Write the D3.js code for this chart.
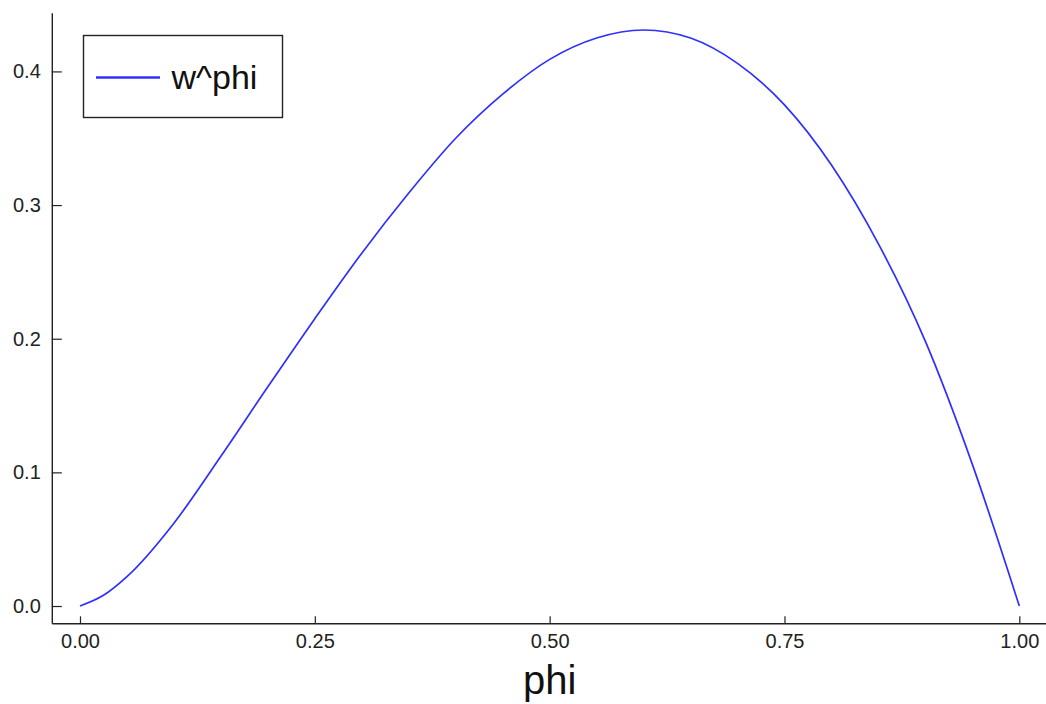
<!DOCTYPE html>
<html>
<head>
<meta charset="utf-8">
<script src="https://cdn.jsdelivr.net/npm/d3@7"></script>
<style>
  body { margin: 0; background: #fff; }
  svg { display: block; }
</style>
</head>
<body>
<div id="chart"></div>
<script>
// values
var phi = [0, 0.025, 0.05, 0.10, 0.15, 0.20, 0.25, 0.30, 0.35, 0.40, 0.45,
           0.50, 0.55, 0.60, 0.65, 0.70, 0.75, 0.80, 0.85, 0.90, 0.95, 1.0];
var wphi = [0, 0.008, 0.022, 0.062, 0.112, 0.164, 0.215, 0.264, 0.309, 0.350, 0.383,
            0.409, 0.425, 0.431, 0.425, 0.406, 0.375, 0.330, 0.271, 0.198, 0.106, 0];
var xTicks = [0, 0.25, 0.5, 0.75, 1.0];
var yTicks = [0, 0.1, 0.2, 0.3, 0.4];
var seriesName = "w^phi";
var xLabel = "phi";

var width = 1046, height = 704;
var font = "'Liberation Sans', Arial, sans-serif";

var svg = d3.select("#chart")
            .append("svg")
            .attr("width", width)
            .attr("height", height);

// 3% padding on both axes, like the original plot
var xmin = d3.min(phi), xmax = d3.max(phi);
var ymin = d3.min(wphi), ymax = d3.max(wphi);
var xpad = (xmax - xmin) * 0.03, ypad = (ymax - ymin) * 0.03;

var x = d3.scaleLinear()
        .domain([xmin - xpad, xmax + xpad])
        .range([51.8, 1047.5]);

var y = d3.scaleLinear()
        .domain([ymin - ypad, ymax + ypad])
        .range([623.3, 12.7]);

var xAxis = svg.append("g")
    .attr("transform", "translate(0," + y.range()[0] + ")")
    .call(d3.axisBottom(x)
            .tickValues(xTicks)
            .tickFormat(d3.format(".2f"))
            .tickSizeInner(-7)
            .tickSizeOuter(0)
            .tickPadding(11));

var yAxis = svg.append("g")
    .attr("transform", "translate(" + x.range()[0] + ",0)")
    .call(d3.axisLeft(y)
            .tickValues(yTicks)
            .tickFormat(d3.format(".1f"))
            .tickSizeInner(-10)
            .tickSizeOuter(0)
            .tickPadding(11));

[xAxis, yAxis].forEach(function(g) {
    g.select(".domain").attr("stroke", "#222").attr("stroke-width", 1.4);
    g.selectAll(".tick line").attr("stroke", "#222").attr("stroke-width", 1.2);
    g.selectAll(".tick text")
        .attr("fill", "#222")
        .style("font-family", font)
        .style("font-size", "20px");
});

// the curve
var line = d3.line()
    .x(function(d, i) { return x(phi[i]); })
    .y(function(d) { return y(d); })
    .curve(d3.curveMonotoneX);

svg.append("path")
    .datum(wphi)
    .attr("fill", "none")
    .attr("stroke", "#2f2fff")
    .attr("stroke-width", 1.7)
    .attr("d", line);

// axis title
svg.append("text")
    .attr("x", (x(xmin) + x(xmax)) / 2)
    .attr("y", 694)
    .attr("text-anchor", "middle")
    .style("font-family", font)
    .style("font-size", "40px")
    .attr("fill", "#111")
    .text(xLabel);

// legend
var legend = svg.append("g").attr("transform", "translate(83.5,35.5)");
legend.append("rect")
    .attr("width", 199)
    .attr("height", 82)
    .attr("fill", "#fff")
    .attr("stroke", "#222")
    .attr("stroke-width", 1.4);
legend.append("line")
    .attr("x1", 12.5).attr("x2", 76.5)
    .attr("y1", 42).attr("y2", 42)
    .attr("stroke", "#2f2fff")
    .attr("stroke-width", 2.4);
legend.append("text")
    .attr("x", 88)
    .attr("y", 53)
    .style("font-family", font)
    .style("font-size", "34px")
    .attr("fill", "#111")
    .text(seriesName);
</script>
</body>
</html>
